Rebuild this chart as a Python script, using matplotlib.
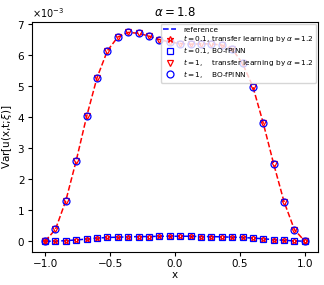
import numpy as np
import matplotlib
matplotlib.use('Agg')
import matplotlib.pyplot as plt

# sample points
x = [-1.0, -0.92, -0.84, -0.76, -0.68, -0.60, -0.52, -0.44, -0.36, -0.28, -0.20, -0.12, -0.04,
     0.04, 0.12, 0.20, 0.28, 0.36, 0.44, 0.52, 0.60, 0.68, 0.76, 0.84, 0.92, 1.0]

# variance at t = 0.1 (x 1e-3)
var_t01 = [0.0, 0.0, 0.02, 0.04, 0.07, 0.10, 0.12, 0.13, 0.14, 0.15, 0.15, 0.16, 0.16,
           0.16, 0.16, 0.15, 0.15, 0.14, 0.13, 0.12, 0.10, 0.08, 0.05, 0.03, 0.01, 0.0]

# variance at t = 1 (x 1e-3)
var_t1 = [0.0, 0.38, 1.31, 2.60, 4.02, 5.27, 6.14, 6.58, 6.73, 6.70, 6.61, 6.50, 6.42,
          6.37, 6.35, 6.36, 6.36, 6.32, 6.20, 5.73, 4.98, 3.80, 2.49, 1.27, 0.37, 0.0]

xticks = [-1.0, -0.5, 0.0, 0.5, 1.0]

x = np.array(x)
v01 = np.array(var_t01) * 1e-3
v1 = np.array(var_t1) * 1e-3

fig = plt.figure(figsize=(3.24, 2.85), dpi=100)
ax = fig.add_axes([0.099, 0.117, 0.882, 0.806])

ax.plot(x, v01, '--', color='blue', lw=1.1, label='reference')
ax.plot(x, v1, '--', color='red', lw=1.1)
ax.plot(x, v01, '*', ms=5, mfc='none', mec='red', mew=0.9,
        label=r'$t=0.1$, transfer learning by $\alpha=1.2$')
ax.plot(x, v01, 's', ms=5, mfc='none', mec='blue', mew=0.9,
        label=r'$t=0.1$, BO-fPINN')
ax.plot(x, v1, 'v', ms=5, mfc='none', mec='red', mew=0.9,
        label=r'$t=1$,    transfer learning by $\alpha=1.2$')
ax.plot(x, v1, 'o', ms=5, mfc='none', mec='blue', mew=0.9,
        label=r'$t=1$,    BO-fPINN')

ax.set_xticks(xticks)
ax.set_title(r'$\alpha=1.8$', fontsize=8.5, pad=4)
ax.set_xlabel('x', fontsize=7.5, labelpad=1)
ax.set_ylabel(r'Var[u(x,t;$\xi$)]', fontsize=7.5, labelpad=2)
ax.tick_params(labelsize=7.5, pad=2, length=3)
ax.ticklabel_format(axis='y', style='sci', scilimits=(0, 0), useMathText=True)
ax.yaxis.get_offset_text().set_fontsize(7)

ax.legend(loc='upper right', fontsize=5.3, handlelength=1.8, borderaxespad=0.25,
          labelspacing=0.12, handletextpad=0.9, borderpad=0.35)

plt.savefig('out.png', dpi=100)
